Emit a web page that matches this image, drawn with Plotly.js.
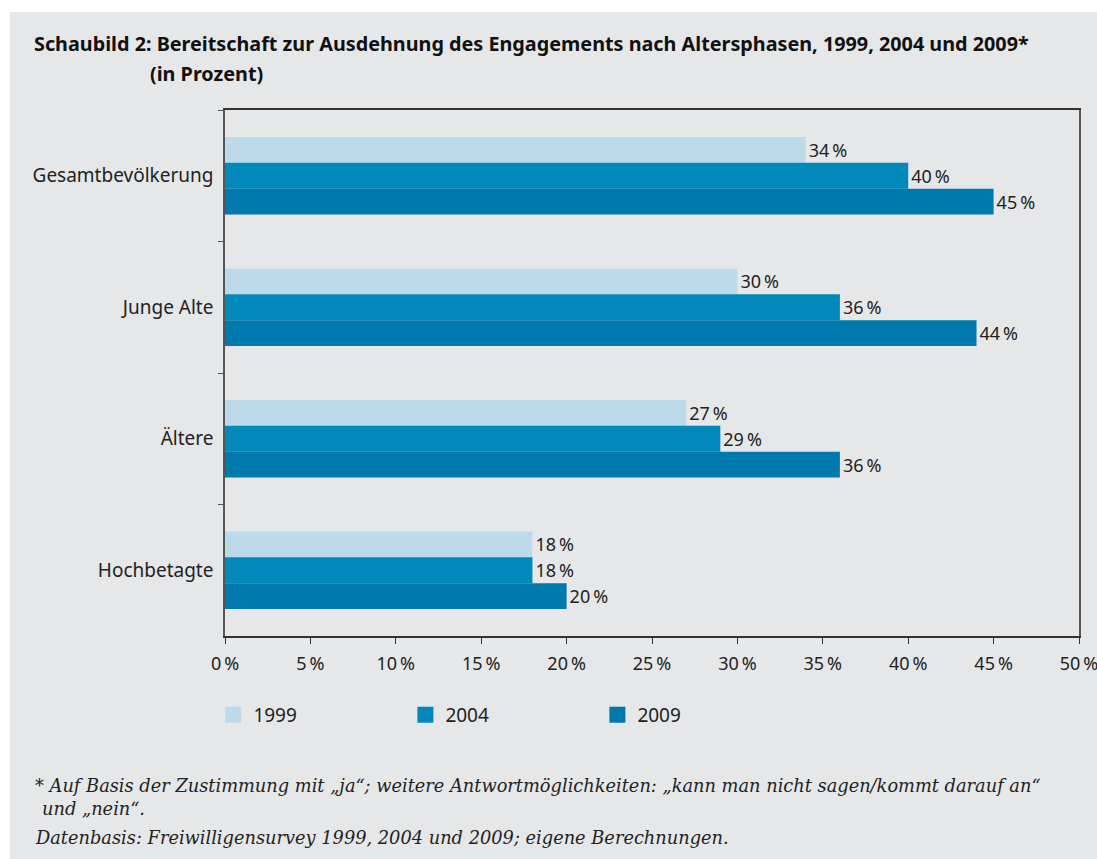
<!DOCTYPE html>
<html><head><meta charset="utf-8">
<script src="https://cdn.plot.ly/plotly-3.0.1.min.js"></script>
<style>
html,body{margin:0;padding:0;background:#ffffff;}
#chart{position:absolute;left:10px;top:12px;width:1087px;height:847px;}
</style></head>
<body><div id="chart"></div>
<script>
const categories = ["Gesamtbevölkerung", "Junge Alte", "Ältere", "Hochbetagte"];
const years = ["1999", "2004", "2009"];
const values1999 = [34, 30, 27, 18];
const values2004 = [40, 36, 29, 18];
const values2009 = [45, 44, 36, 20];
const colors = ["#bddaeb", "#0089ba", "#0079ae"];
const tickValues = [0, 5, 10, 15, 20, 25, 30, 35, 40, 45, 50];
const tickLabels = tickValues.map(v => v + "\u2009%");

const seriesValues = [values1999, values2004, values2009];
const fam = "Noto Sans, sans-serif";
const textCol = "#222";

const barTraces = seriesValues.map((vals, i) => ({
  type: "bar",
  orientation: "h",
  name: years[i],
  y: categories,
  x: vals,
  marker: {color: colors[i], line: {width: 0}},
  text: vals.map(v => v + "\u2009%"),
  textposition: "outside",
  constraintext: "none",
  cliponaxis: false,
  textfont: {family: fam, size: 18, color: textCol},
  showlegend: false,
  hoverinfo: "x+name"
}));

const legendTraces = years.map((yr, i) => ({
  type: "scatter",
  mode: "markers",
  name: yr,
  x: [null],
  y: [null],
  marker: {symbol: "square", size: 16, color: colors[i], line: {width: 0}},
  hoverinfo: "skip"
}));

const layout = {
  width: 1087, height: 847,
  paper_bgcolor: "#e6e7e9",
  plot_bgcolor: "#e6e7e9",
  margin: {l: 215, r: 18, t: 98, b: 223},
  barmode: "group",
  bargap: 0.41,
  bargroupgap: 0,
  showlegend: true,
  font: {family: fam, size: 18, color: textCol},
  xaxis: {
    range: [0, 50],
    tickvals: tickValues,
    ticktext: tickLabels,
    ticks: "outside", ticklen: 6, tickcolor: "#333", tickwidth: 1,
    showgrid: false, zeroline: false,
    showline: true, linecolor: "#333", linewidth: 1.5,
    mirror: true,
    tickfont: {family: fam, size: 18, color: textCol},
    ticklabelstandoff: 5,
    ticklabeloverflow: "allow",
    fixedrange: true
  },
  yaxis: {
    type: "category",
    autorange: "reversed",
    tickson: "boundaries",
    ticks: "outside", ticklen: 5, tickcolor: "#555", tickwidth: 1,
    showgrid: false, zeroline: false,
    showline: true, linecolor: "#555", linewidth: 1.5,
    mirror: true,
    tickfont: {family: fam, size: 19, color: textCol},
    ticklabelstandoff: 6,
    fixedrange: true
  },
  legend: {
    orientation: "h",
    x: -0.0136, xanchor: "left",
    y: -0.15, yanchor: "middle",
    bgcolor: "rgba(0,0,0,0)",
    font: {family: fam, size: 19, color: textCol},
    entrywidth: 147, entrywidthmode: "pixels",
    traceorder: "normal"
  },
  annotations: [
    {xref: "paper", yref: "paper", x: -0.2265, y: 1.1255, xanchor: "left", yanchor: "middle", showarrow: false,
     text: "<b>Schaubild 2: Bereitschaft zur Ausdehnung des Engagements nach Altersphasen, 1999, 2004 und 2009*</b>",
     font: {family: fam, size: 19.8, color: "#111"}},
    {xref: "paper", yref: "paper", x: -0.0902, y: 1.0703, xanchor: "left", yanchor: "middle", showarrow: false,
     text: "<b>(in Prozent)</b>",
     font: {family: fam, size: 19.8, color: "#111"}},
    {xref: "paper", yref: "paper", x: -0.2248, y: -0.2833, xanchor: "left", yanchor: "middle", showarrow: false,
     text: "<i>* Auf Basis der Zustimmung mit „ja“; weitere Antwortmöglichkeiten: „kann man nicht sagen/kommt darauf an“</i>",
     font: {family: "DejaVu Serif, serif", size: 17.8, color: textCol}},
    {xref: "paper", yref: "paper", x: -0.2166, y: -0.327, xanchor: "left", yanchor: "middle", showarrow: false,
     text: "<i>und „nein“.</i>",
     font: {family: "DejaVu Serif, serif", size: 17.8, color: textCol}},
    {xref: "paper", yref: "paper", x: -0.2248, y: -0.383, xanchor: "left", yanchor: "middle", showarrow: false,
     text: "<i>Datenbasis: Freiwilligensurvey 1999, 2004 und 2009; eigene Berechnungen.</i>",
     font: {family: "DejaVu Serif, serif", size: 17.8, color: textCol}}
  ]
};

Plotly.newPlot("chart", barTraces.concat(legendTraces), layout, {displayModeBar: false, responsive: false});
</script></body></html>
